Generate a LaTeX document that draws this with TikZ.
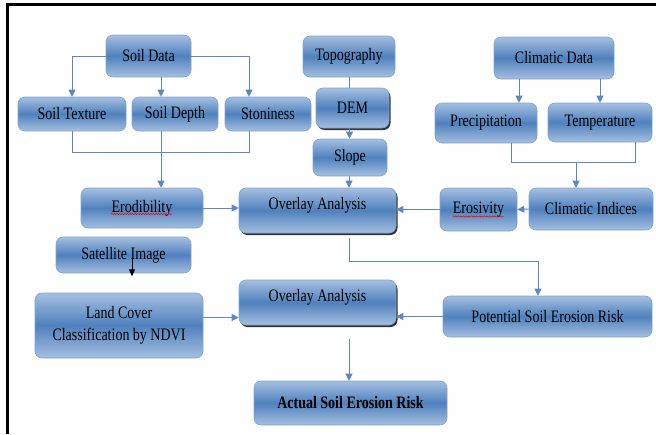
\documentclass[tikz,border=0pt]{standalone}
\usepackage{fontspec}
\setmainfont[FakeStretch=0.8]{Liberation Serif}
\usetikzlibrary{arrows.meta,shadows,decorations.pathmorphing}

\definecolor{boxtop}{HTML}{A5BFE0}
\definecolor{boxmid}{HTML}{4F81BD}
\definecolor{boxline}{HTML}{7FA3CF}
\definecolor{arrowblue}{HTML}{5B87C2}

\tikzset{
  blk/.style={rounded corners=7pt, draw=boxline, line width=0.6pt,
    top color=boxtop, bottom color=boxtop, middle color=boxmid,
    font=\fontsize{17.5}{22}\selectfont, inner sep=0pt, align=center},
  shd/.style={drop shadow={shadow xshift=1.5pt, shadow yshift=-2pt, fill=black!80, opacity=1}},
  ovl/.style={blk, shd, minimum width=157, minimum height=45, text depth=14pt},
  arr/.style={draw=arrowblue, line width=1pt, -{Triangle[width=7pt,length=7pt]}},
  ln/.style={draw=arrowblue, line width=1pt},
  wavy/.style={draw=red, line width=0.5pt, decorate, decoration={snake, amplitude=0.7pt, segment length=2.6pt}},
}

\begin{document}
\begin{tikzpicture}[x=1pt,y=-1pt]
\useasboundingbox (0,0) rectangle (656,434);
\draw[line width=3pt] (7.5,434) -- (7.5,4.5) -- (656,4.5);

\node[blk, minimum width=85, minimum height=42] (sdata) at (148.5,56) {Soil Data};
\node[blk, minimum width=108, minimum height=34] (stext) at (72,114) {Soil Texture};
\node[blk, minimum width=86, minimum height=34] (sdepth) at (175,114) {Soil Depth};
\node[blk, minimum width=86, minimum height=34] (stoni) at (268,114) {Stoniness};
\node[blk, minimum width=92, minimum height=41] (topo) at (349,56.5) {Topography};
\node[blk, shd, minimum width=73, minimum height=40] (dem) at (352.5,108) {DEM};
\node[blk, minimum width=74, minimum height=37] (slope) at (350,157.5) {Slope};
\node[blk, minimum width=120, minimum height=42] (cdata) at (554,58) {Climatic Data};
\node[blk, minimum width=102, minimum height=40] (prec) at (486,123) {Precipitation};
\node[blk, minimum width=104, minimum height=39] (temp) at (600,122.5) {Temperature};
\node[blk, minimum width=122, minimum height=40] (erod) at (142,208) {Erodibility};
\node[ovl] (ov1) at (317.5,210.5) {Overlay Analysis};
\node[blk, minimum width=77, minimum height=43] (eros) at (478.5,209.5) {Erosivity};
\node[blk, minimum width=124, minimum height=42] (cind) at (591,209) {Climatic Indices};
\node[blk, minimum width=135, minimum height=36] (sat) at (123.5,255) {Satellite Image};
\node[blk, minimum width=168, minimum height=65] (lc) at (119,325.5) {Land Cover\\Classification by NDVI};
\node[ovl] (ov2) at (317.5,302.5) {Overlay Analysis};
\node[blk, minimum width=209, minimum height=41] (pot) at (547.5,316.5) {Potential Soil Erosion Risk};
\node[blk, minimum width=193, minimum height=44] (act) at (350.5,403) {\bfseries Actual Soil Erosion Risk};

\draw[wavy] ([shift={(-31,6)}]erod.center) -- ([shift={(30,6)}]erod.center);
\draw[wavy] ([shift={(-26,7)}]eros.center) -- ([shift={(25,7)}]eros.center);

\draw[arr] (sdata.west) -| (stext.north);
\draw[arr] ([xshift=12.5pt]sdata.south) -- ([xshift=12.5pt]sdata.south |- sdepth.north);
\draw[arr] (sdata.east) -| ([xshift=-19pt]stoni.north);
\draw[ln] (stext.south) -- ++(0,21) -| ([xshift=-19pt]stoni.south);
\draw[arr] ([xshift=-14pt]sdepth.south) -- ([xshift=-14pt]sdepth.south |- erod.north);
\draw[arr] (erod.east) -- (erod.east -| ov1.west);

\draw[ln] (topo.south) -- (topo.south |- dem.north);
\draw[arr] ([xshift=-3pt]dem.south) -- ([xshift=-3pt]dem.south |- slope.north);
\draw[arr] ([xshift=-1pt]slope.south) -- ([xshift=-1pt]slope.south |- ov1.north);

\draw[arr] ([xshift=-35pt]cdata.south) -- ([xshift=-35pt]cdata.south |- prec.north);
\draw[arr] (cdata.south -| temp.north) -- (temp.north);
\draw[ln] ([xshift=25pt]prec.south) -- ++(0,19) -| ([xshift=35pt]temp.south);
\draw[arr] ([xshift=-15pt,yshift=26pt]cind.north) -- ([xshift=-15pt]cind.north);
\draw[arr] (cind.west) -- (eros.east);
\draw[arr] (eros.west) -- (eros.west -| ov1.east);

\draw[arr] ([xshift=31.5pt,yshift=-5pt]ov1.south) -- ++(0,23) -| ([xshift=-9.5pt]pot.north);
\draw[arr] (pot.west) -- (pot.west -| ov2.east);
\draw[arr] ([yshift=8pt]lc.east) -- ([yshift=8pt]lc.east -| ov2.west);
\draw[arr] ([xshift=31.5pt,yshift=-14pt]ov2.south) -- ([xshift=31.5pt]ov2.south |- act.north);
\draw[-{Triangle[width=6pt,length=7pt]}, line width=0.8pt] ([shift={(8.5,3)}]sat.center) -- ([shift={(8.5,3)}]sat.south);
\end{tikzpicture}
\end{document}
